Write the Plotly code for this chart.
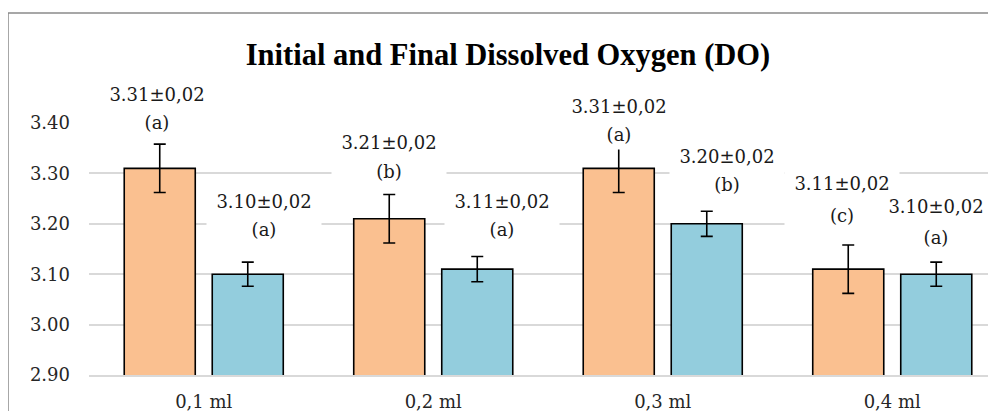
import plotly.graph_objects as go

categories = ["0,1 ml", "0,2 ml", "0,3 ml", "0,4 ml"]
initial_do = [3.31, 3.21, 3.31, 3.11]
final_do = [3.10, 3.11, 3.20, 3.10]
initial_err = [0.048, 0.048, 0.048, 0.048]
final_err = [0.024, 0.025, 0.025, 0.024]
initial_labels = ["3.31±0,02", "3.21±0,02", "3.31±0,02", "3.11±0,02"]
initial_letters = ["(a)", "(b)", "(a)", "(c)"]
final_labels = ["3.10±0,02", "3.11±0,02", "3.20±0,02", "3.10±0,02"]
final_letters = ["(a)", "(a)", "(b)", "(a)"]
y_ticks = [2.90, 3.00, 3.10, 3.20, 3.30, 3.40]

# label placement (pixel offsets, style only)
init_xshift = [-47, -44, -44, -50]
init_y1 = [74, 76, 62, 86]
init_y2 = [46, 47, 34, 54]
fin_xshift = [60, 69, 64, 44]
fin_y1 = [73, 68, 67, 68]
fin_y2 = [45, 40, 39, 37]

ORANGE = "#FAC090"
BLUE = "#93CDDD"
SERIF = "DejaVu Serif"
PAGE_OFF = 8  # default body margin of the html page

fig = go.Figure()
fig.add_trace(go.Bar(
    x=categories, y=initial_do, name="Initial DO",
    marker=dict(color=ORANGE, line=dict(color="black", width=1.6)),
    error_y=dict(type="data", array=initial_err, color="black", thickness=1.6, width=6),
))
fig.add_trace(go.Bar(
    x=categories, y=final_do, name="Final DO",
    marker=dict(color=BLUE, line=dict(color="black", width=1.6)),
    error_y=dict(type="data", array=final_err, color="black", thickness=1.6, width=6),
))

annos = []
lab_font = dict(family=SERIF, size=18, color="#1a1a1a")
for i, c in enumerate(categories):
    for (txts, vals, xs, y1, y2) in [
        ((initial_labels[i], initial_letters[i]), initial_do, init_xshift, init_y1, init_y2),
        ((final_labels[i], final_letters[i]), final_do, fin_xshift, fin_y1, fin_y2),
    ]:
        for t, ys in ((txts[0], y1[i]), (txts[1], y2[i])):
            annos.append(dict(
                x=c, y=vals[i], xref="x", yref="y", text=t, showarrow=False,
                xshift=xs[i], yshift=ys, xanchor="center", yanchor="middle",
                font=lab_font, bgcolor="white", width=114, height=29, borderpad=0,
            ))

W, H = 996, 411
left, top, bottom_px, right_px = 89, 123, 375, 996  # target screen positions
ml = left - PAGE_OFF
mt = top - PAGE_OFF
mb = H - (bottom_px - PAGE_OFF)
mr = W - (right_px - PAGE_OFF)
plot_w = W - ml - mr
plot_h = H - mt - mb

fig.update_layout(
    width=W, height=H,
    margin=dict(l=ml, r=mr, t=mt, b=mb),
    paper_bgcolor="white", plot_bgcolor="white",
    showlegend=False,
    barmode="group", bargap=0.233, bargroupgap=0.193,
    title=dict(
        text="<b>Initial and Final Dissolved Oxygen (DO)</b>",
        font=dict(family="Liberation Serif", size=30.5, color="black"),
        x=(508 - PAGE_OFF) / W, xref="container", xanchor="center",
        y=1 - (54 - PAGE_OFF) / H, yref="container", yanchor="middle",
    ),
    annotations=annos,
    shapes=[dict(
        type="rect", xref="paper", yref="paper",
        x0=(8 - left) / plot_w, x1=1.2, y0=-0.5, y1=(bottom_px - 13) / plot_h,
        line=dict(color="#8a8a8a", width=1.5), fillcolor="rgba(0,0,0,0)", layer="below",
    )],
    xaxis=dict(
        range=[-0.5, -0.5 + plot_w / 229.5], automargin=False,
        showgrid=False, showline=True, linecolor="#d9d9d9", linewidth=1.5,
        ticks="", tickfont=dict(family=SERIF, size=18, color="#262626"),
        ticklabelstandoff=10,
    ),
    yaxis=dict(
        range=[2.90, 3.40], tickvals=y_ticks, automargin=False,
        ticktext=[f"{v:.2f}" for v in y_ticks],
        showgrid=True, gridcolor="#d9d9d9", gridwidth=1.5, zeroline=False,
        showline=False, ticks="",
        tickfont=dict(family=SERIF, size=18, color="#262626"),
        ticklabelstandoff=18,
    ),
)

fig.write_html("out.html")
